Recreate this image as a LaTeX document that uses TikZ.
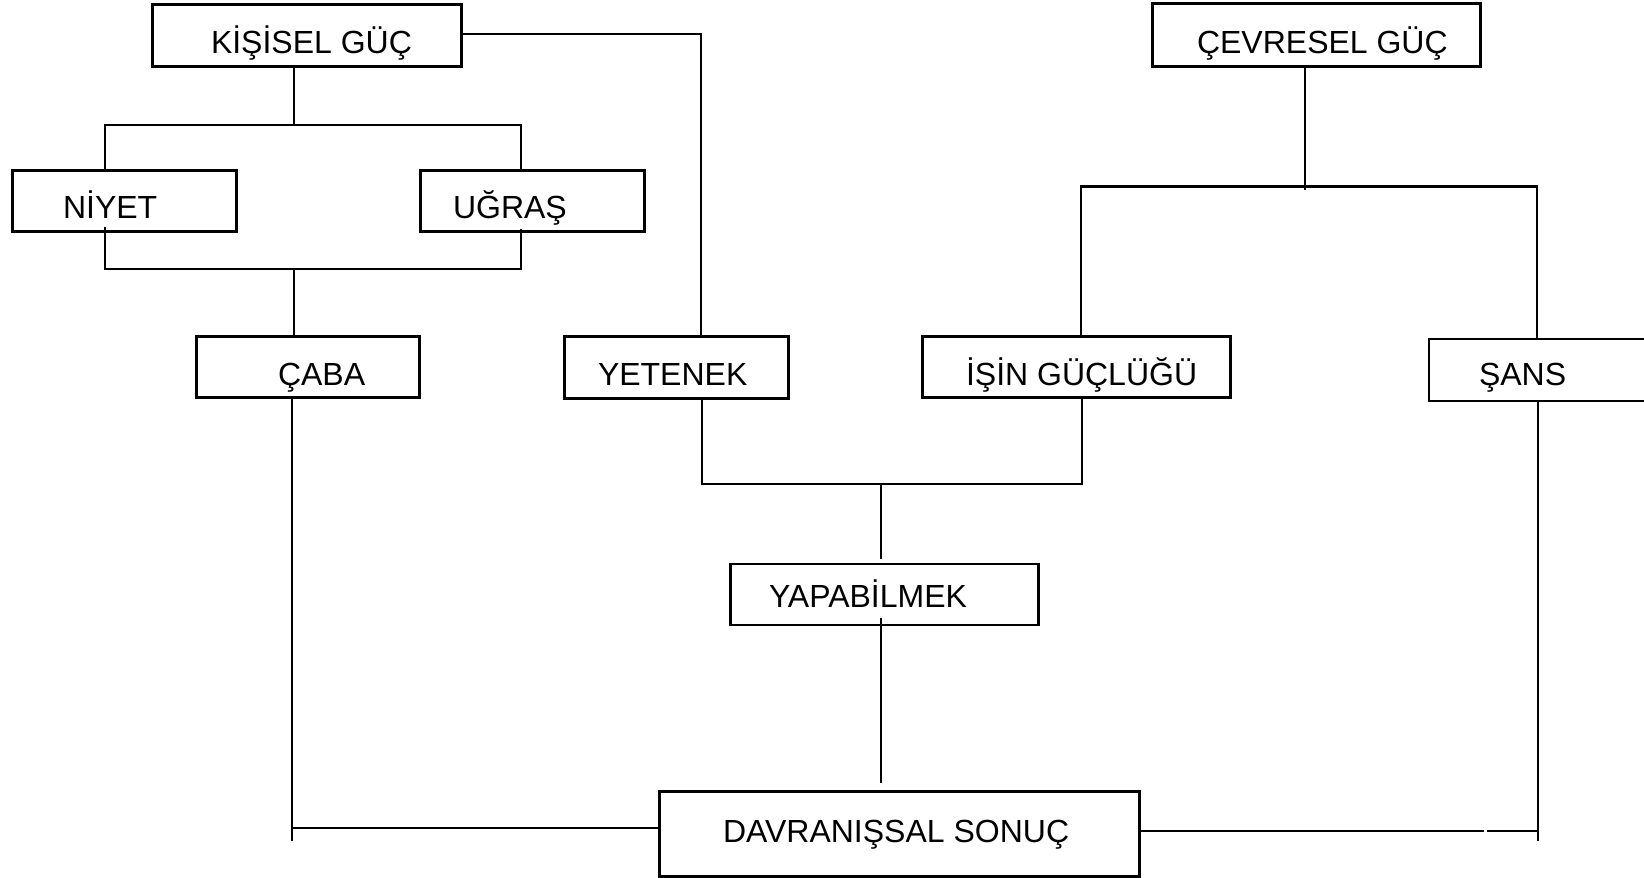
\documentclass[tikz,border=0pt]{standalone}
\usepackage{fontspec}
\setmainfont{Liberation Sans}
\usetikzlibrary{calc}
\begin{document}
\begin{tikzpicture}[x=1pt,y=-1pt,
  box/.style={draw=black, line width=2.5pt, rectangle, inner sep=0pt, outer sep=0pt},
  lbl/.style={anchor=base west, inner sep=0pt, outer sep=0pt, font=\fontsize{32pt}{38pt}\selectfont},
  conn/.style={draw=black, line width=2.5pt}]
\useasboundingbox (0,0) rectangle (1644,878);
\clip (0,0) rectangle (1644,878);
% boxes
\node[box, minimum width=309pt, minimum height=62pt] (K) at (307,35.5) {};
\node[box, minimum width=328pt, minimum height=63pt] (C) at (1316.5,35) {};
\node[box, minimum width=224pt, minimum height=61pt] (N) at (124.5,201) {};
\node[box, minimum width=224pt, minimum height=61pt] (U) at (532.5,201) {};
\node[box, minimum width=223pt, minimum height=61pt] (CB) at (308,367) {};
\node[box, minimum width=224pt, minimum height=62pt] (Y) at (676.5,367.5) {};
\node[box, minimum width=308pt, minimum height=61pt] (I) at (1076.5,367) {};
\node[box, minimum width=225pt, minimum height=62pt] (S) at (1541.5,370) {};
\node[box, minimum width=308pt, minimum height=61pt] (YA) at (884.5,594.5) {};
\node[box, minimum width=480pt, minimum height=85pt] (D) at (899.5,834) {};
% labels
\node[lbl] (Kt) at (211,53) {KİŞİSEL GÜÇ};
\node[lbl] (Ct) at (1197,53) {ÇEVRESEL GÜÇ};
\node[lbl] (Nt) at (63,218) {NİYET};
\node[lbl] (Ut) at (453,218) {UĞRAŞ};
\node[lbl] (CBt) at (278,385) {ÇABA};
\node[lbl] (Yt) at (598,385) {YETENEK};
\node[lbl] (It) at (966,385) {İŞİN GÜÇLÜĞÜ};
\node[lbl] (St) at (1479,385) {ŞANS};
\node[lbl] (YAt) at (769,607) {YAPABİLMEK};
\node[lbl] (Dt) at (723,842) {DAVRANIŞSAL SONUÇ};
% coordinates
\coordinate (kyc) at (701,34);
\coordinate (k1) at (294,125);
\coordinate (b1l) at (105,125);
\coordinate (b1r) at (521,125);
\coordinate (b2l) at (105,269);
\coordinate (b2r) at (521,269);
\coordinate (b2m) at (294,269);
\coordinate (c1) at (1305,190);
\coordinate (c1l) at (1081,186.5);
\coordinate (c1r) at (1537,186.5);
\coordinate (m1l) at (702,484);
\coordinate (m1r) at (1082,484);
\coordinate (m1m) at (881,484);
\coordinate (m1d) at (881,559);
\coordinate (m2b) at (881,783);
\coordinate (l1) at (292,828);
\coordinate (l1e) at (292,841);
\coordinate (r1) at (1538,831);
\coordinate (r1e) at (1538,841);
\coordinate (rg1) at (1484,831);
\coordinate (rg2) at (1487,831);
% connectors
\draw[conn] (K.east |- kyc) -- (kyc) -- (kyc |- Y.north);
\draw[conn] (k1 |- K.south) -- (k1);
\draw[conn] (b1l |- N.north) -- (b1l) -- (b1r) -- (b1r |- U.north);
\draw[conn] ($(b2l |- N.south)+(0,-5)$) -- (b2l) -- (b2r) -- ($(b2r |- U.south)+(0,-3)$);
\draw[conn] (b2m) -- (b2m |- CB.north);
\draw[conn] (c1 |- C.south) -- (c1);
\draw[conn] (c1l |- I.north) -- (c1l) -- (c1r) -- (c1r |- S.north);
\draw[conn] (m1l |- Y.south) -- (m1l) -- (m1r) -- (m1r |- I.south);
\draw[conn] (m1m) -- (m1d);
\draw[conn] ($(m2b |- YA.south)+(0,-7)$) -- (m2b);
\draw[conn] (l1 |- CB.south) -- (l1e);
\draw[conn] (l1) -- (l1 -| D.west);
\draw[conn] (D.east |- r1) -- (rg1);
\draw[conn] (rg2) -- (r1);
\draw[conn] (r1 |- S.south) -- (r1e);
\end{tikzpicture}
\end{document}
